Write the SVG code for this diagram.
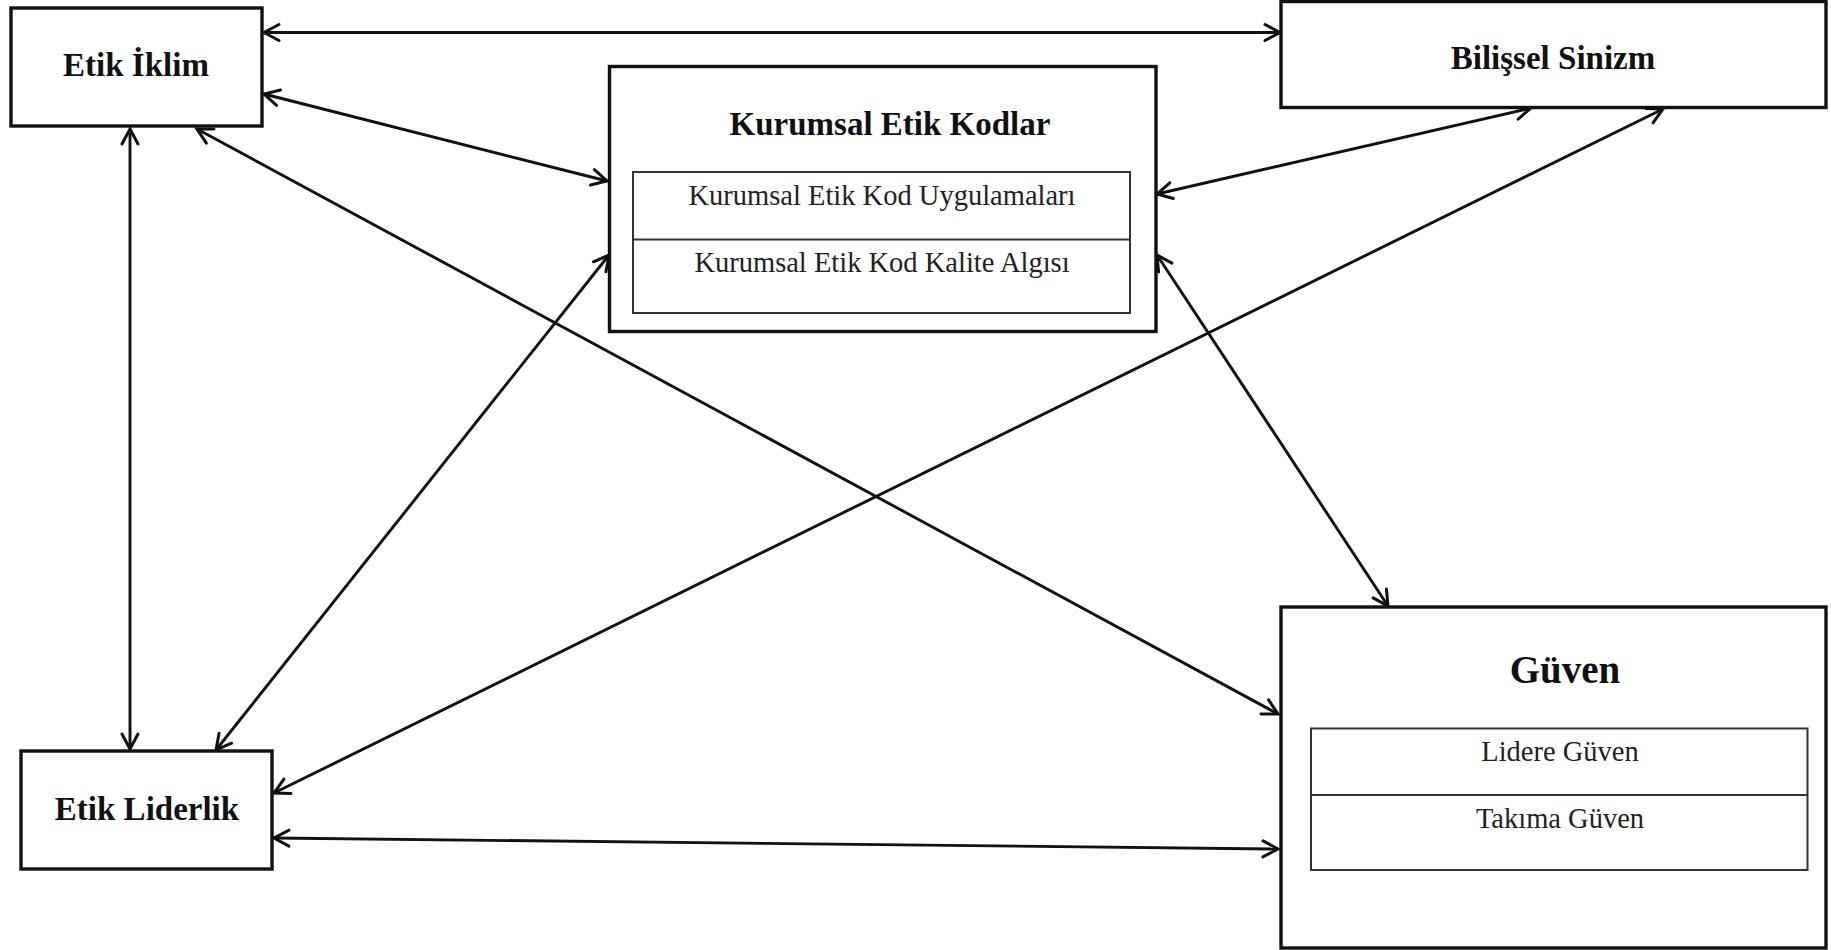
<svg xmlns="http://www.w3.org/2000/svg" width="1831" height="950" viewBox="0 0 1831 950">
  <style>
    .box { fill: #fff; stroke: #111; stroke-width: 3.4; }
    .sub { fill: none; stroke: #333; stroke-width: 2; }
    .title { font-family: "Liberation Serif", "Times New Roman", serif; font-weight: bold; font-size: 33px; fill: #111; text-anchor: middle; }
    .item { font-family: "Liberation Serif", "Times New Roman", serif; font-size: 28.5px; fill: #222; text-anchor: middle; }
    .link { fill: none; stroke: #111; stroke-width: 2.9; marker-start: url(#head); marker-end: url(#head); }
  </style>
  <defs>
    <marker id="head" markerUnits="userSpaceOnUse" viewBox="-18 -10 20 20" markerWidth="20" markerHeight="20" refX="0" refY="0" orient="auto-start-reverse" overflow="visible">
      <path d="M-15,-8 L0,0 L-15,8" fill="none" stroke="#111" stroke-width="3" stroke-linecap="round" stroke-linejoin="miter"/>
    </marker>
  </defs>

  <rect width="1831" height="950" fill="#fff"/>

  <!-- connectors -->
  <g id="connectors">
    <line class="link" x1="264" y1="32.5" x2="1280" y2="32.5"/>
    <line class="link" x1="264" y1="94" x2="607" y2="181"/>
    <line class="link" x1="197" y1="129" x2="1278" y2="714"/>
    <line class="link" x1="130" y1="129" x2="130" y2="749"/>
    <line class="link" x1="1157" y1="194" x2="1531" y2="108"/>
    <line class="link" x1="609" y1="255" x2="216" y2="750"/>
    <line class="link" x1="1157" y1="255" x2="1388" y2="606"/>
    <line class="link" x1="1663" y1="109" x2="274" y2="793"/>
    <line class="link" x1="274" y1="838" x2="1278" y2="849"/>
  </g>

  <!-- Etik İklim -->
  <g id="etik-iklim">
    <rect class="box" x="11" y="8" width="251" height="118"/>
    <text class="title" x="136" y="76">Etik İklim</text>
  </g>

  <!-- Bilişsel Sinizm -->
  <g id="bilissel-sinizm">
    <rect class="box" x="1281" y="1.5" width="545" height="106"/>
    <text class="title" x="1553" y="69">Bilişsel Sinizm</text>
  </g>

  <!-- Kurumsal Etik Kodlar -->
  <g id="kurumsal-etik-kodlar">
    <rect class="box" x="609.5" y="66.5" width="546.5" height="265"/>
    <text class="title" x="890" y="135">Kurumsal Etik Kodlar</text>
    <rect class="sub" x="633" y="172" width="497" height="141"/>
    <line class="sub" x1="633" y1="239.5" x2="1130" y2="239.5"/>
    <text class="item" x="882" y="205">Kurumsal Etik Kod Uygulamaları</text>
    <text class="item" x="882" y="272">Kurumsal Etik Kod Kalite Algısı</text>
  </g>

  <!-- Etik Liderlik -->
  <g id="etik-liderlik">
    <rect class="box" x="21" y="751" width="251" height="118"/>
    <text class="title" x="147" y="820">Etik Liderlik</text>
  </g>

  <!-- Güven -->
  <g id="guven">
    <rect class="box" x="1281" y="607" width="545" height="341"/>
    <text class="title" x="1565" y="683" style="font-size:39px">Güven</text>
    <rect class="sub" x="1311" y="728.5" width="496.5" height="141.5"/>
    <line class="sub" x1="1311" y1="795" x2="1807.5" y2="795"/>
    <text class="item" x="1560" y="761">Lidere Güven</text>
    <text class="item" x="1560" y="828">Takıma Güven</text>
  </g>
</svg>
